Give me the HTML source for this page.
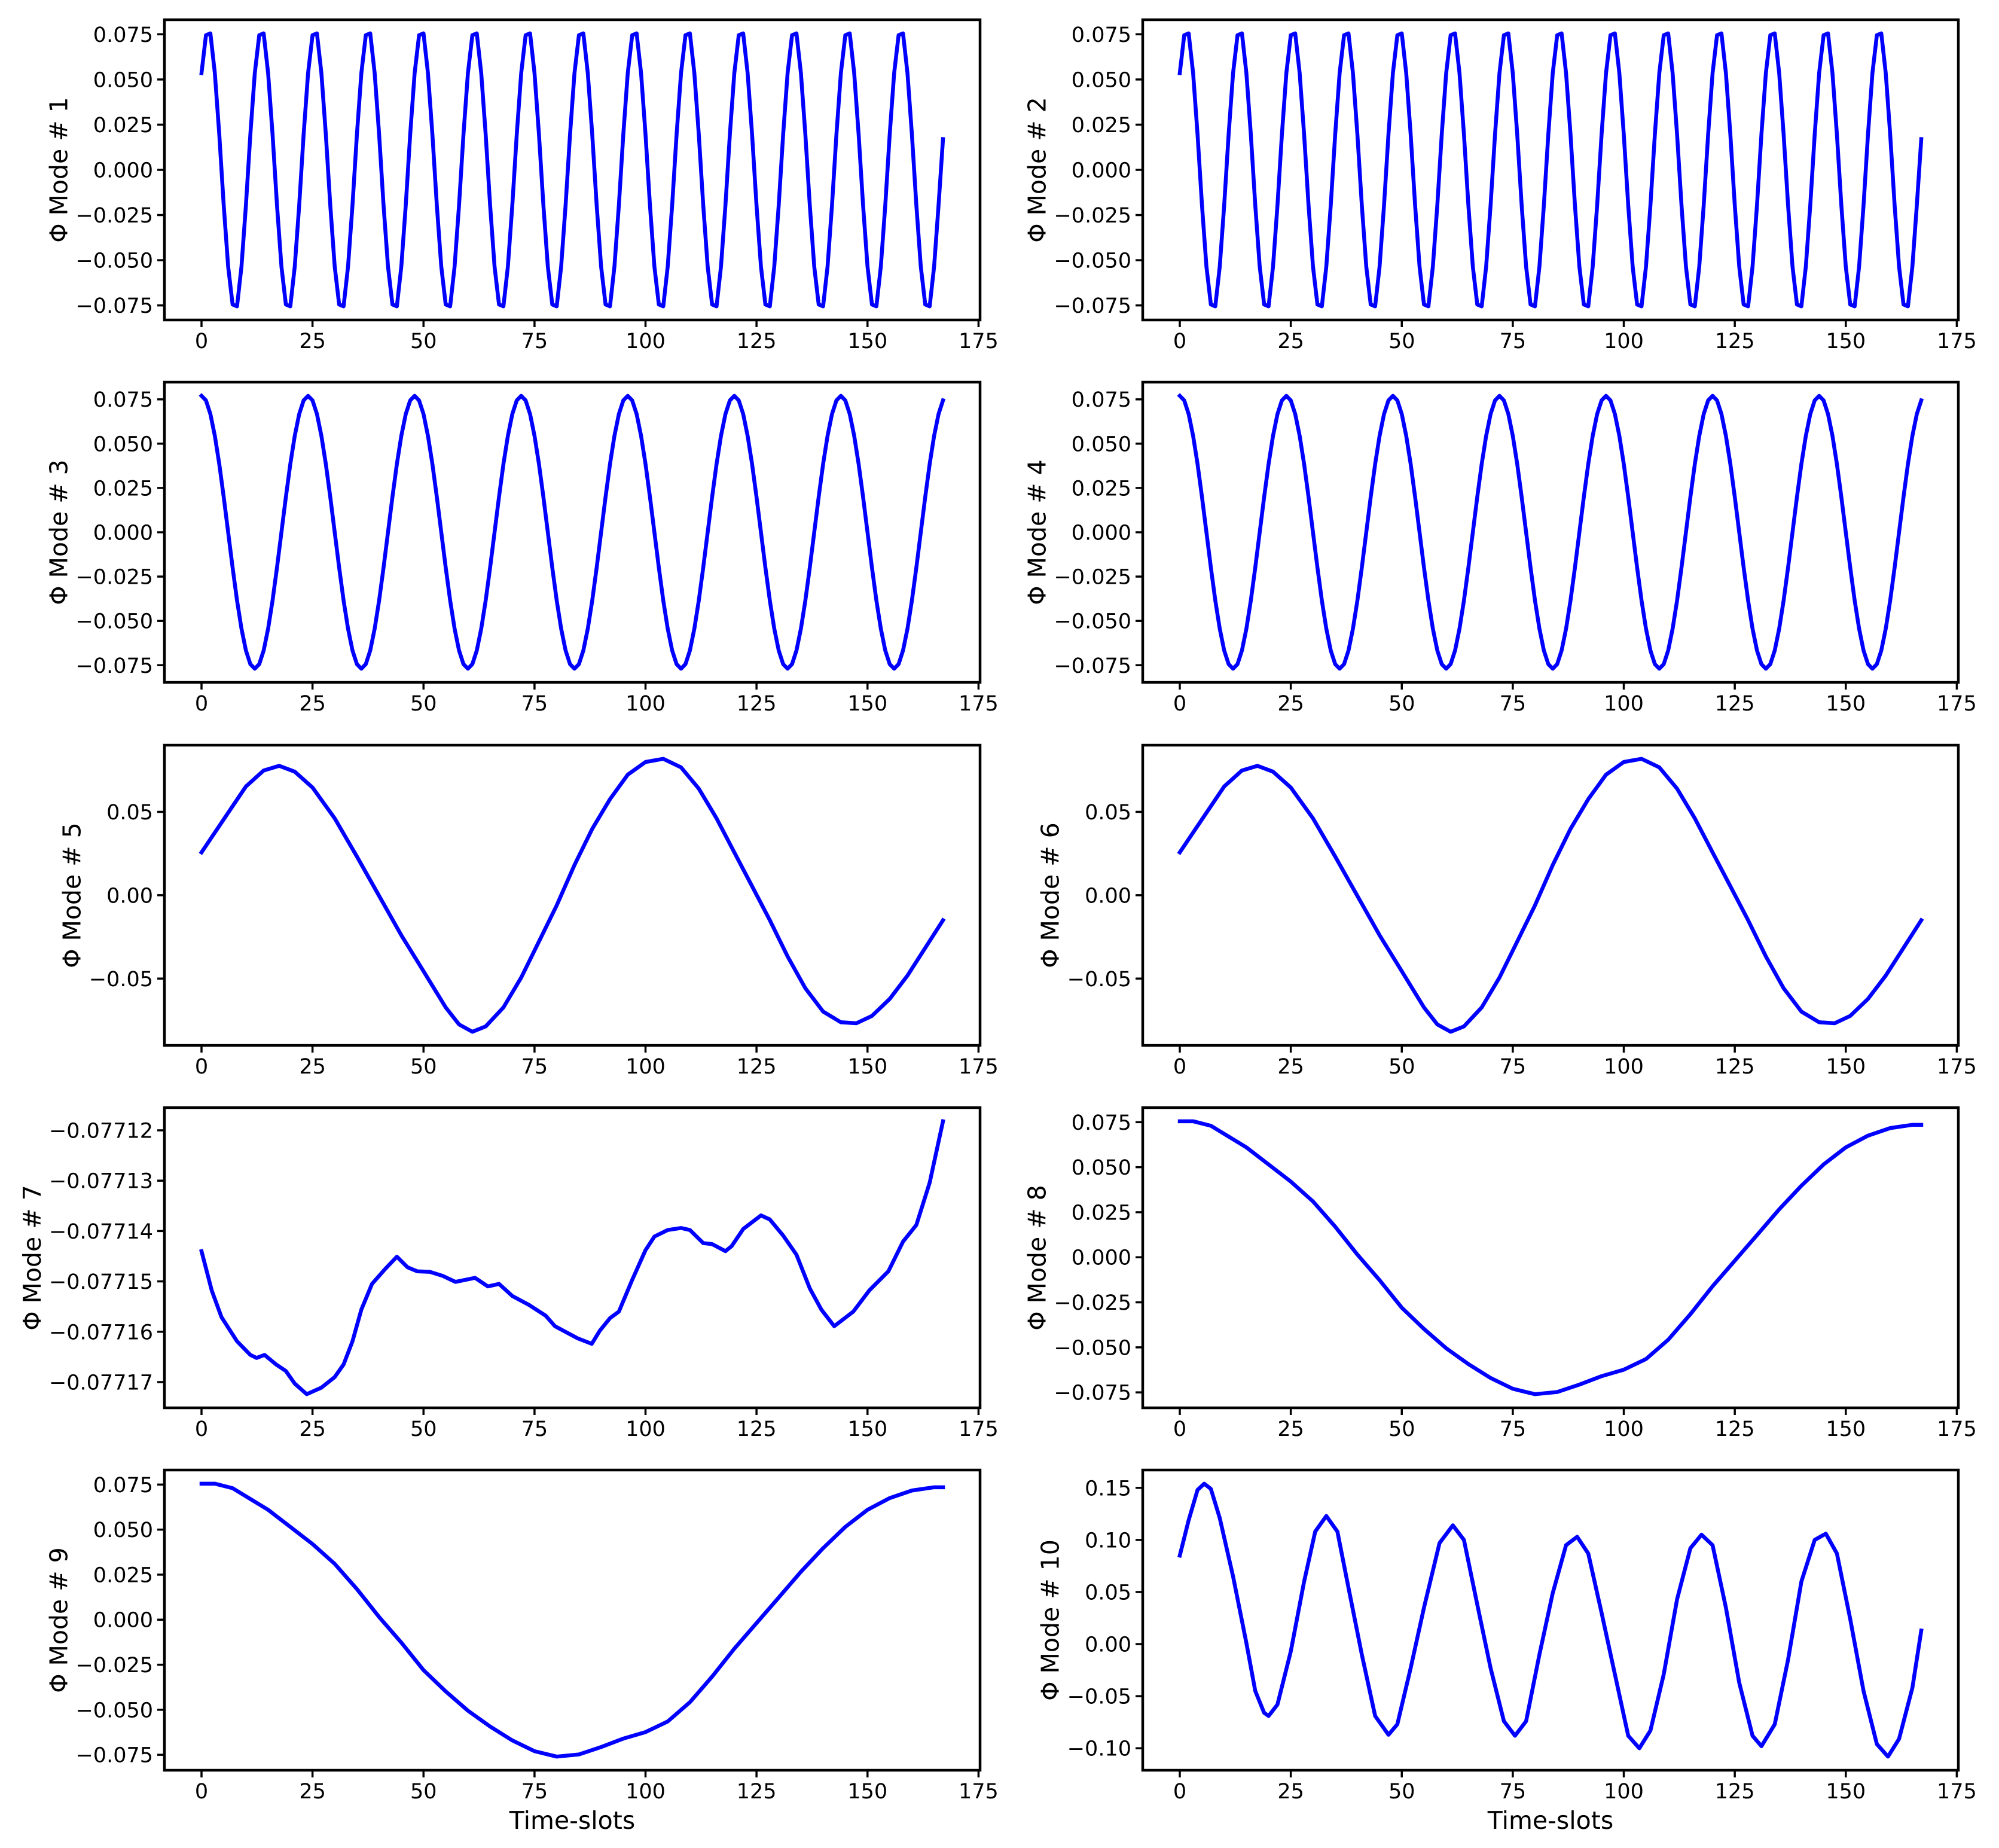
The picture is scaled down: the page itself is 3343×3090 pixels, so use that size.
<!DOCTYPE html>
<html><head><meta charset="utf-8"><style>
html,body{margin:0;padding:0;background:#fff;}
svg{display:block;font-family:"DejaVu Sans","Liberation Sans",sans-serif;}
</style></head><body>
<svg id="fig" width="3343" height="3090" viewBox="0 0 3343 3090" xmlns="http://www.w3.org/2000/svg">
<rect x="0" y="0" width="3343" height="3090" fill="#fff"/>
</svg>
<script>
const xTicks = [0, 25, 50, 75, 100, 125, 150, 175];
const tickLabels75 = ["\u22120.075","\u22120.050","\u22120.025","0.000","0.025","0.050","0.075"];
const tickVals75 = [-0.075,-0.05,-0.025,0,0.025,0.05,0.075];
const tickVals05 = [-0.05,0,0.05];
const tickLabels05 = ["\u22120.05","0.00","0.05"];
const tickVals7 = [-0.07717,-0.07716,-0.07715,-0.07714,-0.07713,-0.07712];
const tickLabels7 = ["\u22120.07717","\u22120.07716","\u22120.07715","\u22120.07714","\u22120.07713","\u22120.07712"];
const tickVals10 = [-0.10,-0.05,0,0.05,0.10,0.15];
const tickLabels10 = ["\u22120.10","\u22120.05","0.00","0.05","0.10","0.15"];

const mode1 = [
0.0535,0.0745,0.0755,0.0535,0.0196,-0.0196,-0.0535,-0.0745,-0.0755,-0.0535,-0.0196,0.0196,
0.0535,0.0745,0.0755,0.0535,0.0196,-0.0196,-0.0535,-0.0745,-0.0755,-0.0535,-0.0196,0.0196,
0.0535,0.0745,0.0755,0.0535,0.0196,-0.0196,-0.0535,-0.0745,-0.0755,-0.0535,-0.0196,0.0196,
0.0535,0.0745,0.0755,0.0535,0.0196,-0.0196,-0.0535,-0.0745,-0.0755,-0.0535,-0.0196,0.0196,
0.0535,0.0745,0.0755,0.0535,0.0196,-0.0196,-0.0535,-0.0745,-0.0755,-0.0535,-0.0196,0.0196,
0.0535,0.0745,0.0755,0.0535,0.0196,-0.0196,-0.0535,-0.0745,-0.0755,-0.0535,-0.0196,0.0196,
0.0535,0.0745,0.0755,0.0535,0.0196,-0.0196,-0.0535,-0.0745,-0.0755,-0.0535,-0.0196,0.0196,
0.0535,0.0745,0.0755,0.0535,0.0196,-0.0196,-0.0535,-0.0745,-0.0755,-0.0535,-0.0196,0.0196,
0.0535,0.0745,0.0755,0.0535,0.0196,-0.0196,-0.0535,-0.0745,-0.0755,-0.0535,-0.0196,0.0196,
0.0535,0.0745,0.0755,0.0535,0.0196,-0.0196,-0.0535,-0.0745,-0.0755,-0.0535,-0.0196,0.0196,
0.0535,0.0745,0.0755,0.0535,0.0196,-0.0196,-0.0535,-0.0745,-0.0755,-0.0535,-0.0196,0.0196,
0.0535,0.0745,0.0755,0.0535,0.0196,-0.0196,-0.0535,-0.0745,-0.0755,-0.0535,-0.0196,0.0196,
0.0535,0.0745,0.0755,0.0535,0.0196,-0.0196,-0.0535,-0.0745,-0.0755,-0.0535,-0.0196,0.0196,
0.0535,0.0745,0.0755,0.0535,0.0196,-0.0196,-0.0535,-0.0745,-0.0755,-0.0535,-0.0196,0.0170];
const mode2 = mode1.slice();

const mode3 = [
0.0770,0.0744,0.0667,0.0544,0.0385,0.0199,0,-0.0199,-0.0385,-0.0544,-0.0667,-0.0744,-0.0770,-0.0744,-0.0667,-0.0544,-0.0385,-0.0199,0,0.0199,0.0385,0.0544,0.0667,0.0744,
0.0770,0.0744,0.0667,0.0544,0.0385,0.0199,0,-0.0199,-0.0385,-0.0544,-0.0667,-0.0744,-0.0770,-0.0744,-0.0667,-0.0544,-0.0385,-0.0199,0,0.0199,0.0385,0.0544,0.0667,0.0744,
0.0770,0.0744,0.0667,0.0544,0.0385,0.0199,0,-0.0199,-0.0385,-0.0544,-0.0667,-0.0744,-0.0770,-0.0744,-0.0667,-0.0544,-0.0385,-0.0199,0,0.0199,0.0385,0.0544,0.0667,0.0744,
0.0770,0.0744,0.0667,0.0544,0.0385,0.0199,0,-0.0199,-0.0385,-0.0544,-0.0667,-0.0744,-0.0770,-0.0744,-0.0667,-0.0544,-0.0385,-0.0199,0,0.0199,0.0385,0.0544,0.0667,0.0744,
0.0770,0.0744,0.0667,0.0544,0.0385,0.0199,0,-0.0199,-0.0385,-0.0544,-0.0667,-0.0744,-0.0770,-0.0744,-0.0667,-0.0544,-0.0385,-0.0199,0,0.0199,0.0385,0.0544,0.0667,0.0744,
0.0770,0.0744,0.0667,0.0544,0.0385,0.0199,0,-0.0199,-0.0385,-0.0544,-0.0667,-0.0744,-0.0770,-0.0744,-0.0667,-0.0544,-0.0385,-0.0199,0,0.0199,0.0385,0.0544,0.0667,0.0744,
0.0770,0.0744,0.0667,0.0544,0.0385,0.0199,0,-0.0199,-0.0385,-0.0544,-0.0667,-0.0744,-0.0770,-0.0744,-0.0667,-0.0544,-0.0385,-0.0199,0,0.0199,0.0385,0.0544,0.0667,0.0744];
const mode4 = mode3.slice();

const mode5X = [0,5,10,14,17.5,21,25,30,35,40,45,50,55,58,61,64,68,72,76,80,84,88,92,96,100,104,108,112,116,120,124,128,132,136,140,144,147.5,151,155,159,163,167];
const mode5Y = [0.0257,0.0455,0.0652,0.0748,0.0776,0.0741,0.0646,0.0461,0.0232,-0.0004,-0.0240,-0.0456,-0.0673,-0.0775,-0.0819,-0.0787,-0.0673,-0.0494,-0.0278,-0.0061,0.0181,0.0398,0.0576,0.0723,0.0799,0.0818,0.0767,0.0639,0.0461,0.0257,0.0054,-0.0150,-0.0367,-0.0558,-0.0698,-0.0762,-0.0768,-0.0724,-0.0622,-0.0482,-0.0316,-0.0150];
const mode6X = mode5X.slice();
const mode6Y = mode5Y.slice();

const mode7X = [0,2.3,4.5,8,11,12.4,14.2,16.8,19,21,23.7,27,30,32,34,36,38.4,41.3,44,46.4,48.6,51.4,54.3,57.2,61.6,64.5,67,70,73.8,77.5,79.6,84.7,87.9,89.7,92,94,97,100,102,105,108,110,113,115,118,119.4,122,126,128,131,134,137,139.6,142.5,146.8,150.4,154.7,158,161,164,167];
const mode7Off = [2.40,3.18,3.71,4.19,4.46,4.52,4.46,4.65,4.78,5.03,5.24,5.11,4.90,4.65,4.19,3.56,3.05,2.76,2.51,2.72,2.80,2.81,2.89,3.01,2.93,3.10,3.05,3.29,3.47,3.68,3.89,4.13,4.24,3.98,3.73,3.60,2.97,2.38,2.11,1.98,1.94,1.98,2.24,2.26,2.40,2.30,1.96,1.69,1.77,2.09,2.47,3.14,3.56,3.89,3.60,3.18,2.80,2.21,1.88,1.04,-0.18];

const mode8X = [0,3,7,11,15,20,25,30,35,40,45,50,55,60,65,70,75,80,85,90,95,100,105,110,115,120,125,130,135,140,145,150,155,160,165,167];
const mode8Y = [0.0755,0.0755,0.0730,0.0670,0.0610,0.0515,0.0420,0.0310,0.0170,0.0015,-0.0127,-0.0280,-0.0398,-0.0505,-0.0593,-0.0670,-0.0730,-0.0760,-0.0748,-0.0707,-0.0660,-0.0624,-0.0565,-0.0458,-0.0316,-0.0161,-0.0019,0.0123,0.0266,0.0397,0.0515,0.0610,0.0675,0.0717,0.0735,0.0735];
const mode9X = mode8X.slice();
const mode9Y = mode8Y.slice();

const mode10X = [0,2,4,5.5,7,9,12,15,17,19,20,22,25,28,30.5,33,35.5,38,41,44,47,49,52,55,58.5,61.5,64,67,70,73,75.5,78,81,84,87,89.5,92,95,98,101,103.5,106,109,112,115,117.5,120,123,126,129,131,134,137,140,143,145.5,148,151,154,157,159.5,162,165,167];
const mode10Y = [0.085,0.119,0.148,0.154,0.149,0.121,0.065,0.001,-0.045,-0.066,-0.069,-0.058,-0.007,0.060,0.108,0.123,0.108,0.054,-0.010,-0.069,-0.087,-0.077,-0.023,0.035,0.097,0.114,0.100,0.038,-0.023,-0.074,-0.088,-0.074,-0.010,0.049,0.095,0.103,0.087,0.030,-0.029,-0.088,-0.100,-0.083,-0.029,0.043,0.092,0.105,0.095,0.035,-0.037,-0.088,-0.098,-0.077,-0.015,0.060,0.100,0.106,0.087,0.024,-0.045,-0.096,-0.108,-0.091,-0.042,0.013];

const NS = "http://www.w3.org/2000/svg";
const svg = document.getElementById('fig');
function mk(tag, attrs, parent) {
  const e = document.createElementNS(NS, tag);
  for (const k in attrs) e.setAttribute(k, attrs[k]);
  (parent || svg).appendChild(e);
  return e;
}
function idx(arr) { return arr.map((_, i) => i); }

const colLeft = [275, 1911];
const rowTop = [33, 639, 1246, 1852, 2458];
const AW = 1364, AH = 502;

function panel(num, col, row, xs, ys, tv, tl, isBottom) {
  const L = colLeft[col], T = rowTop[row];
  const g = mk('g', {});
  
  
  const xmin = -8.35, xmax = 175.35;
  let ymin = Math.min(...ys), ymax = Math.max(...ys);
  const m = (ymax - ymin) * 0.05; ymin -= m; ymax += m;
  const sx = v => L + (v - xmin) / (xmax - xmin) * AW;
  const sy = v => T + AH - (v - ymin) / (ymax - ymin) * AH;
  let d = '';
  for (let i = 0; i < xs.length; i++) d += (i ? 'L' : 'M') + sx(xs[i]).toFixed(2) + ' ' + sy(ys[i]).toFixed(2);
  const p = mk('path', {d: d, fill: 'none', stroke: '#0000ff', 'stroke-width': 6.5, 'stroke-linejoin': 'round', 'stroke-linecap': 'square'}, g);
  
  
  const fr = mk('rect', {x: L, y: T, width: AW, height: AH, fill: 'none', stroke: '#000', 'stroke-width': 4.5}, g);
  
  
  xTicks.forEach(v => {
    const x = sx(v);
    const t = mk('line', {x1: x, y1: T + AH, x2: x, y2: T + AH + 12, stroke: '#000', 'stroke-width': 3.5}, g);
    
    
    const tx = mk('text', {x: x, y: T + AH + 47, 'font-size': 35, 'text-anchor': 'middle', fill: '#000'}, g);
    tx.textContent = String(v);
    
    
  });
  let minx = L;
  tv.forEach((v, i) => {
    const y = sy(v);
    const t = mk('line', {x1: L - 12, y1: y, x2: L, y2: y, stroke: '#000', 'stroke-width': 3.5}, g);
    
    
    const tx = mk('text', {x: L - 19, y: y + 12.5, 'font-size': 35, 'text-anchor': 'end', fill: '#000'}, g);
    tx.textContent = tl[i];
    
    
    try { const b = tx.getBBox(); if (b.x < minx) minx = b.x; } catch (e) {}
  });
  const lx = minx - 14, ly = T + AH / 2;
  const yl = mk('text', {x: lx, y: ly, 'font-size': 41, 'text-anchor': 'middle', fill: '#000', transform: 'rotate(-90 ' + lx + ' ' + ly + ')'}, g);
  yl.textContent = '\u03A6 Mode # ' + num;
  
  
  if (isBottom) {
    const xl = mk('text', {x: L + AW / 2, y: T + AH + 98, 'font-size': 41, 'text-anchor': 'middle', fill: '#000'}, g);
    xl.textContent = 'Time-slots';
    
    
  }
}

panel(1, 0, 0, idx(mode1), mode1, tickVals75, tickLabels75, false);
panel(2, 1, 0, idx(mode2), mode2, tickVals75, tickLabels75, false);
panel(3, 0, 1, idx(mode3), mode3, tickVals75, tickLabels75, false);
panel(4, 1, 1, idx(mode4), mode4, tickVals75, tickLabels75, false);
panel(5, 0, 2, mode5X, mode5Y, tickVals05, tickLabels05, false);
panel(6, 1, 2, mode6X, mode6Y, tickVals05, tickLabels05, false);
panel(7, 0, 3, mode7X, mode7Off.map(o => -0.07712 - o * 1e-5), tickVals7, tickLabels7, false);
panel(8, 1, 3, mode8X, mode8Y, tickVals75, tickLabels75, false);
panel(9, 0, 4, mode9X, mode9Y, tickVals75, tickLabels75, true);
panel(10, 1, 4, mode10X, mode10Y, tickVals10, tickLabels10, true);
</script>
</body></html>
